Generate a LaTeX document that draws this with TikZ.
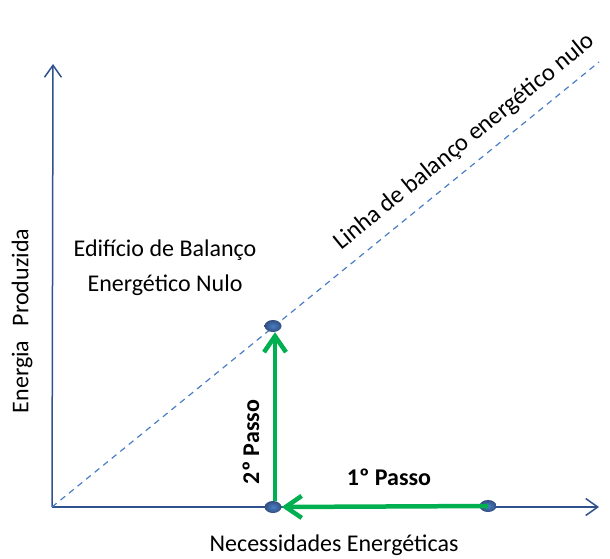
\documentclass[tikz,border=0pt]{standalone}
\usepackage{fontspec}
\setmainfont{Carlito}
\usetikzlibrary{arrows.meta,shapes.geometric}
\definecolor{axisblue}{RGB}{47,82,143}
\definecolor{lineblue}{RGB}{74,126,196}
\definecolor{stepgreen}{RGB}{0,176,80}
\definecolor{dotblue}{RGB}{50,78,128}
\tikzset{
  dot/.style={ellipse, shading=radial, inner color=lineblue, outer color=dotblue, minimum width=17pt, minimum height=12pt, inner sep=0pt},
  axis/.style={axisblue, line width=1.5pt, -{Straight Barb[length=12pt,width=17pt]}},
  stepline/.style={stepgreen, line width=4.5pt, -{Straight Barb[length=16pt,width=22pt]}},
}
\begin{document}
\begin{tikzpicture}[x=1pt, y=1pt, font=\fontsize{24}{35}\selectfont]
  \useasboundingbox (0,0) rectangle (610,-559);
  \coordinate (O) at (52,-507);
  \coordinate (xend) at (599,-507);
  \coordinate (yend) at (53,-64);
  \coordinate (lend) at (599,-62);
  % axes
  \draw[axis] (O) -- (xend);
  \draw[axis] (O) -- (yend);
  % balance line
  \draw[lineblue, line width=1.2pt, dash pattern=on 6pt off 5pt] (O) -- (lend)
    node[sloped, pos=0.78, anchor=south, yshift=8pt, text=black, font=\fontsize{24.5}{30}\selectfont] (ltext) {Linha de balanço energético nulo};
  % points
  \node[dot] (p1) at (488,-506) {};
  \node[dot] (p0) at (273,-507) {};
  \node[dot] (p2) at (273,-326) {};
  % steps
  \draw[stepline] (p1.center) -- (p0.east);
  \draw[stepline] ([xshift=2pt]p0.north) -- ([xshift=2pt]p2.south);
  % labels
  \node (xlab) at (334,-545) {Necessidades Energéticas};
  \node[rotate=90] (ylab) at (22,-321) {Energia\hspace{0.6em}Produzida};
  \node[align=center] (nzeb) at (165,-268) {Edifício de Balanço\\Energético Nulo};
  \node[font=\fontsize{24}{29}\selectfont\bfseries] (s1) at (389,-477) {1º Passo};
  \node[rotate=90, font=\fontsize{24}{29}\selectfont\bfseries] (s2) at (251,-442) {2º Passo};
\end{tikzpicture}
\end{document}
